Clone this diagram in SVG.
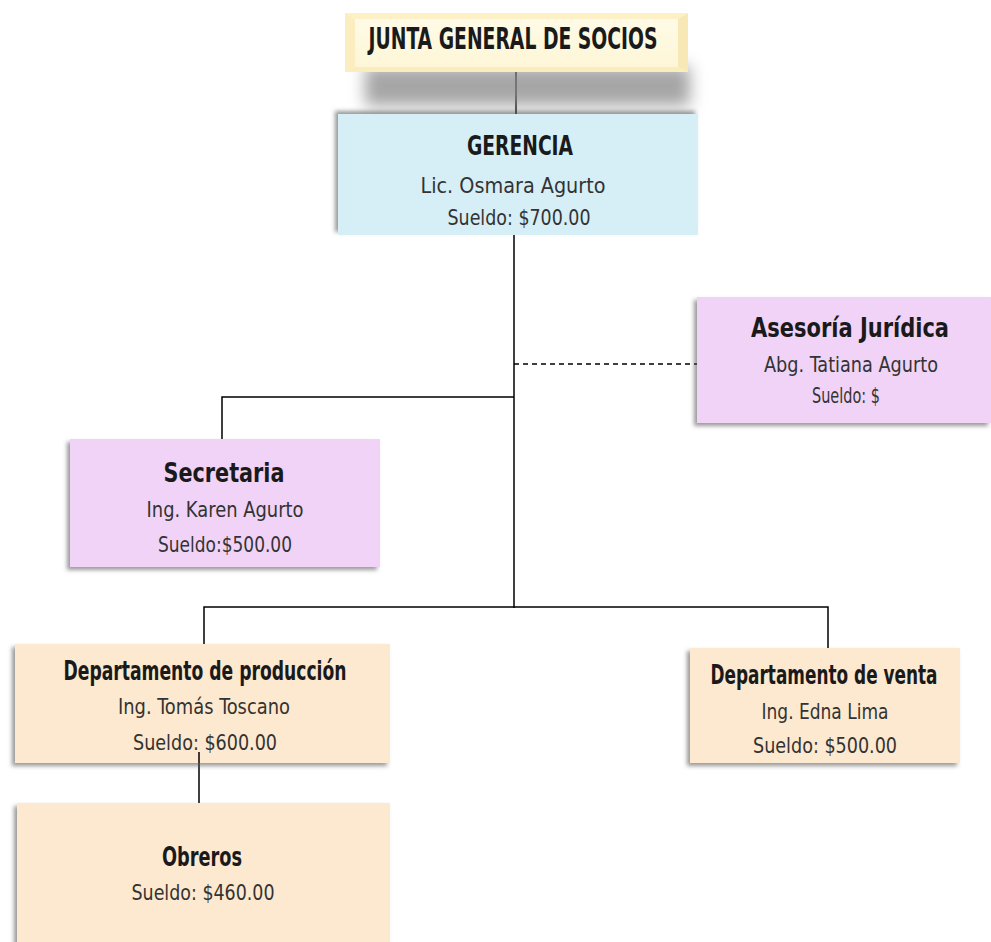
<svg xmlns="http://www.w3.org/2000/svg" width="991" height="942" viewBox="0 0 991 942">
<defs>
<filter id="sh" x="-10%" y="-10%" width="120%" height="130%">
<feDropShadow dx="-3" dy="3" stdDeviation="2" flood-color="#555" flood-opacity="0.6"/>
</filter>
<filter id="sh2" x="-10%" y="-20%" width="120%" height="140%">
<feDropShadow dx="-3" dy="-3" stdDeviation="2" flood-color="#555" flood-opacity="0.6"/>
</filter>
<filter id="blur" x="-20%" y="-50%" width="140%" height="200%">
<feGaussianBlur stdDeviation="8"/>
</filter>
<linearGradient id="jg" x1="0" y1="0" x2="0" y2="1">
<stop offset="0" stop-color="#fffbe8"/>
<stop offset="1" stop-color="#fdf5d5"/>
</linearGradient>
</defs>
<style>
text{font-family:"DejaVu Sans Condensed","Liberation Sans Narrow","Liberation Sans",sans-serif;text-anchor:middle}
.t{font-size:26px;font-weight:bold;fill:#1a1a1a}
.s{font-size:21px;fill:#333}
.ln{stroke:#000;stroke-width:1.5;fill:none}
.pu{fill:#f0d3f6}
.or{fill:#fde9cf}
</style>
<g id="connectors">
<line class="ln" x1="516" y1="72" x2="516" y2="114" stroke-width="3"/>
<line class="ln" x1="514" y1="235" x2="514" y2="608" stroke-width="2.5"/>
<line class="ln" x1="514" y1="364" x2="697" y2="364" stroke-dasharray="5,4" stroke-width="1"/>
<polyline class="ln" points="514,397 222,397 222,439"/>
<polyline class="ln" points="204,644 204,607 828,607 828,648"/>
<line class="ln" x1="199" y1="752" x2="199" y2="803"/>
</g>
<g id="junta">
<rect x="365" y="66" width="325" height="40" fill="#888" opacity="0.75" filter="url(#blur)"/>
<rect x="345" y="13" width="343" height="59" fill="url(#jg)"/>
<polygon points="345,13 688,13 678,19 355,19" fill="#fcf0c4"/>
<polygon points="345,72 688,72 678,67 355,67" fill="#f9ecbd"/>
<polygon points="345,13 355,19 355,67 345,72" fill="#fbedc0"/>
<polygon points="688,13 678,19 678,67 688,72" fill="#f7e8b5"/>
<text class="t" x="513" y="49" style="font-size:30px" textLength="289" lengthAdjust="spacingAndGlyphs">JUNTA GENERAL DE SOCIOS</text>
</g>
<g id="gerencia">
<rect x="338" y="114" width="360" height="121" fill="#d6eef6" filter="url(#sh2)"/>
<text class="t" x="520" y="155" textLength="106" lengthAdjust="spacingAndGlyphs">GERENCIA</text>
<text class="s" x="513" y="193" textLength="185" lengthAdjust="spacingAndGlyphs">Lic. Osmara Agurto</text>
<text class="s" x="519" y="225" textLength="143" lengthAdjust="spacingAndGlyphs">Sueldo: $700.00</text>
</g>
<g id="asesoria">
<rect class="pu" x="697" y="297" width="294" height="126" filter="url(#sh)"/>
<text class="t" x="850" y="337" textLength="198" lengthAdjust="spacingAndGlyphs">Asesoría Jurídica</text>
<text class="s" x="851" y="372" textLength="174" lengthAdjust="spacingAndGlyphs">Abg. Tatiana Agurto</text>
<text class="s" x="846" y="403" textLength="68" lengthAdjust="spacingAndGlyphs">Sueldo: $</text>
</g>
<g id="secretaria">
<rect class="pu" x="70" y="439" width="310" height="128" filter="url(#sh)"/>
<text class="t" x="224" y="482" textLength="121" lengthAdjust="spacingAndGlyphs">Secretaria</text>
<text class="s" x="225" y="517" textLength="157" lengthAdjust="spacingAndGlyphs">Ing. Karen Agurto</text>
<text class="s" x="225" y="552" textLength="134" lengthAdjust="spacingAndGlyphs">Sueldo:$500.00</text>
</g>
<g id="produccion">
<rect class="or" x="15" y="644" width="375" height="119" filter="url(#sh)"/>
<text class="t" x="205" y="680" textLength="283" lengthAdjust="spacingAndGlyphs">Departamento de producción</text>
<text class="s" x="204" y="714" textLength="172" lengthAdjust="spacingAndGlyphs">Ing. Tomás Toscano</text>
<text class="s" x="205" y="750" textLength="144" lengthAdjust="spacingAndGlyphs">Sueldo: $600.00</text>
</g>
<line class="ln" x1="199" y1="752" x2="199" y2="763"/>
<g id="venta">
<rect class="or" x="690" y="648" width="270" height="115" filter="url(#sh)"/>
<text class="t" x="824" y="684" textLength="227" lengthAdjust="spacingAndGlyphs">Departamento de venta</text>
<text class="s" x="825" y="719" textLength="127" lengthAdjust="spacingAndGlyphs">Ing. Edna Lima</text>
<text class="s" x="825" y="753" textLength="144" lengthAdjust="spacingAndGlyphs">Sueldo: $500.00</text>
</g>
<g id="obreros">
<rect class="or" x="17" y="803" width="373" height="145" filter="url(#sh)"/>
<text class="t" x="202" y="866" textLength="80" lengthAdjust="spacingAndGlyphs">Obreros</text>
<text class="s" x="203" y="900" textLength="143" lengthAdjust="spacingAndGlyphs">Sueldo: $460.00</text>
</g>
</svg>
